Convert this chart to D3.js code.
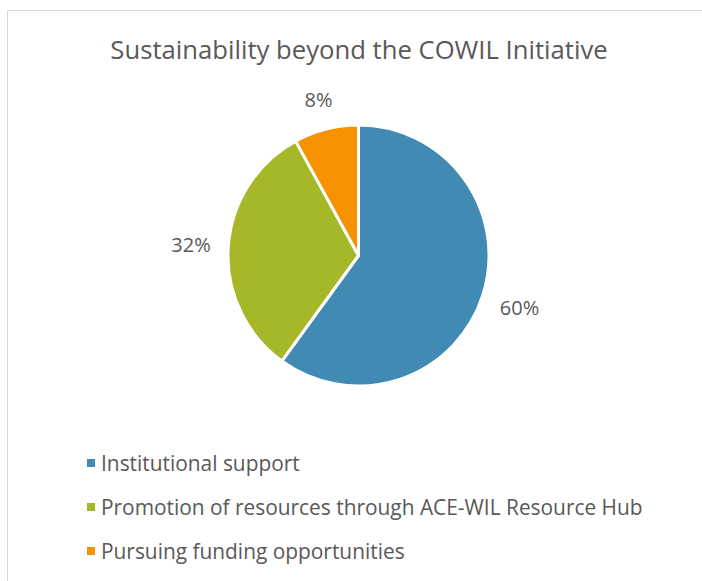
<!DOCTYPE html>
<html><head><meta charset="utf-8">
<script src="https://cdn.jsdelivr.net/npm/d3@7"></script>
<style>body{margin:0;background:#fff}svg{display:block}</style>
</head><body>
<svg id="c" width="702" height="581"></svg>
<script>
const categories = ["Institutional support", "Promotion of resources through ACE-WIL Resource Hub", "Pursuing funding opportunities"];
const values = [60, 32, 8];
const labels = ["60%", "32%", "8%"];
const colors = ["#418AB3", "#A6B727", "#F69200"];
const title = "Sustainability beyond the COWIL Initiative";

const svg = d3.select("#c");
const font = "'Open Sans', 'Noto Sans', sans-serif";
const txt = "#595959";

// chart frame
svg.append("path").attr("d", "M7.5,581 L7.5,10.5 L702,10.5").attr("fill", "none").attr("stroke", "#d9d9d9").attr("stroke-width", 1);

function fit(sel, w) {
  let fs = parseFloat(sel.attr("font-size"));
  for (let i = 0; i < 4; i++) {
    const cur = sel.node().getComputedTextLength();
    fs = fs * w / cur;
    sel.attr("font-size", fs);
  }
}

const t = svg.append("text").attr("x", 359).attr("y", 59).attr("text-anchor", "middle")
  .attr("font-family", font).attr("font-size", 24).attr("fill", txt).text(title);
fit(t, 497);

const cx = 358.5, cy = 255.5, r = 130.5;
const pie = d3.pie().sort(null).value(d => d)(values);
const arc = d3.arc().innerRadius(0).outerRadius(r);
const g = svg.append("g").attr("transform", `translate(${cx},${cy})`);
g.selectAll("path").data(pie).join("path").attr("d", arc)
  .attr("fill", (d, i) => colors[i]).attr("stroke", "#fff").attr("stroke-width", 3).attr("stroke-linejoin", "round");

// outside-end labels: box placed at fixed gap outside the rim along mid-angle
const pad = 17;
g.selectAll("text.lab").data(pie).join("text").attr("class", "lab")
  .attr("font-family", font).attr("font-size", 20).attr("fill", txt)
  .attr("text-anchor", "middle").attr("dominant-baseline", "central")
  .text((d, i) => labels[i])
  .each(function(d) {
    const a = (d.startAngle + d.endAngle) / 2;
    const ux = Math.sin(a), uy = -Math.cos(a);
    const w = this.getComputedTextLength(), h = 20;
    const dist = r + pad + Math.abs(ux) * w / 2 + Math.abs(uy) * h / 2;
    d3.select(this).attr("x", ux * dist).attr("y", uy * dist);
  });

const legY = [463, 507, 551];
const leg = svg.append("g");
categories.forEach((c, i) => {
  leg.append("rect").attr("x", 87).attr("y", legY[i] - 4).attr("width", 8).attr("height", 8).attr("fill", colors[i]);
  const tt = leg.append("text").attr("x", 101).attr("y", legY[i]).attr("dominant-baseline", "central")
    .attr("font-family", font).attr("font-size", 18).attr("fill", txt).text(c);
  if (i === 1) {
    fit(tt, 542);
  }
});
const fsL = leg.selectAll("text").filter((d, i) => i === 1).attr("font-size");
leg.selectAll("text").attr("font-size", fsL);
</script>
</body></html>
